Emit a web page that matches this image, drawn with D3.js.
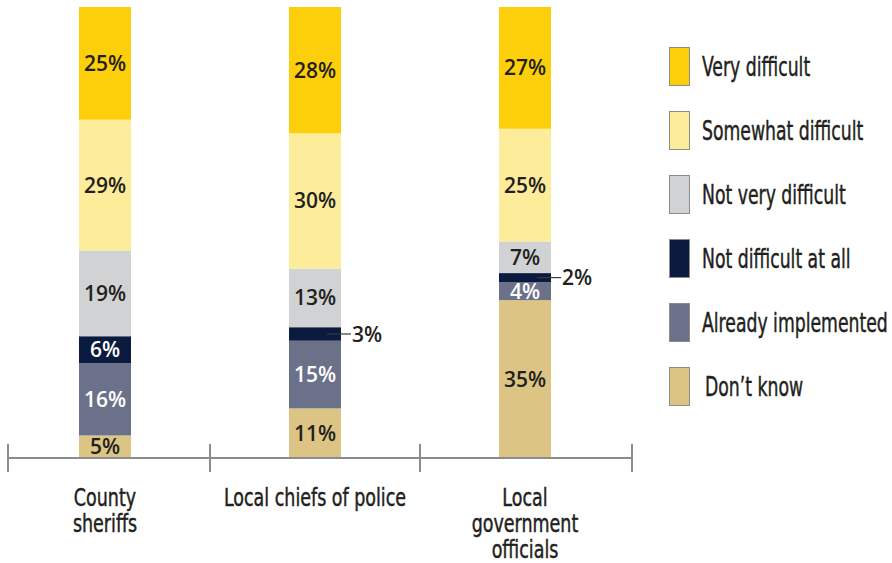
<!DOCTYPE html>
<html>
<head>
<meta charset="utf-8">
<script src="https://cdn.jsdelivr.net/npm/d3@7"></script>
<style>
  html, body { margin: 0; padding: 0; background: #fff; }
  svg { display: block; }
  .cond { font-family: "Liberation Sans Narrow", "DejaVu Sans Condensed", "Roboto", sans-serif; font-stretch: condensed; fill: #231f20; stroke: #231f20; stroke-width: 0.45px; }
  .pct { font-family: "Open Sans", "Lato", sans-serif; font-weight: 600; font-size: 21px; }
</style>
</head>
<body>
<svg id="chart" width="892" height="563"></svg>
<script>
// Survey groups (x-axis) and the label lines drawn under each
const categories = ["County sheriffs", "Local chiefs of police", "Local government officials"];
const categoryLabelLines = [["County", "sheriffs"], ["Local chiefs of police"], ["Local", "government", "officials"]];

// Response options, stacked bottom to top
const seriesNames = ["Don\u2019t know", "Already implemented", "Not difficult at all", "Not very difficult", "Somewhat difficult", "Very difficult"];
const seriesColors = ["#dcc584", "#6c718a", "#0b1a3f", "#d1d2d4", "#fdec9a", "#fccf0a"];
const labelColors = ["#231f20", "#ffffff", "#ffffff", "#231f20", "#231f20", "#231f20"];

// Percent of respondents per group, one array per response option
const dontKnow           = [5, 11, 35];
const alreadyImplemented = [16, 15, 4];
const notDifficultAtAll  = [6, 3, 2];
const notVeryDifficult   = [19, 13, 7];
const somewhatDifficult  = [29, 30, 25];
const veryDifficult      = [25, 28, 27];

// Legend order (top to bottom)
const legendOrder = ["Very difficult", "Somewhat difficult", "Not very difficult", "Not difficult at all", "Already implemented", "Don\u2019t know"];

const seriesValues = [dontKnow, alreadyImplemented, notDifficultAtAll, notVeryDifficult, somewhatDifficult, veryDifficult];

const rows = categories.map((c, i) => {
  const row = { category: c };
  seriesNames.forEach((s, j) => { row[s] = seriesValues[j][i]; });
  return row;
});

const W = 892;
const svg = d3.select("#chart");
// horizontal squeeze so the captions read as a condensed face
const captionSqueeze = 0.81;
let legendSqueeze = 0.755;

const axisY = 458;
const x = d3.scaleBand().domain(categories).range([0, 630]);
const y = d3.scaleLinear().domain([0, 100]).range([axisY, 7]);
const barWidth = 52;

const stack = d3.stack().keys(seriesNames);
const stacked = stack(rows);
const color = d3.scaleOrdinal().domain(seriesNames).range(seriesColors);
const labelColor = d3.scaleOrdinal().domain(seriesNames).range(labelColors);

// Bars
const layers = svg.append("g").selectAll("g")
  .data(stacked).join("g")
  .attr("fill", d => color(d.key));

layers.selectAll("rect")
  .data(d => d.map(p => Object.assign(p, { key: d.key })))
  .join("rect")
  .attr("x", d => x.bandwidth() / 2 + x(d.data.category) - barWidth / 2)
  .attr("width", barWidth)
  .attr("y", d => y(d[1]))
  .attr("height", d => y(d[0]) - y(d[1]));

// Segment labels: inside for larger segments, outside with a leader line for small ones
const labels = svg.append("g");
stacked.forEach(layer => {
  layer.forEach(p => {
    const v = p[1] - p[0];
    const cx = x(p.data.category) + x.bandwidth() / 2;
    const cy = (y(p[0]) + y(p[1])) / 2;
    if (v > 3) {
      labels.append("text")
        .attr("class", "pct")
        .attr("x", cx)
        .attr("y", cy)
        .attr("dy", "0.36em")
        .attr("text-anchor", "middle")
        .attr("fill", labelColor(layer.key))
        .text(v + "%");
    } else {
      const x0 = cx + 12, x1 = cx + barWidth / 2 + 10;
      labels.append("line")
        .attr("x1", x0).attr("x2", x1)
        .attr("y1", cy).attr("y2", cy)
        .attr("stroke", "#3a3a3a").attr("stroke-width", 1.2);
      labels.append("text")
        .attr("class", "pct")
        .attr("x", x1 + 1)
        .attr("y", cy)
        .attr("dy", "0.36em")
        .attr("fill", "#231f20")
        .text(v + "%");
    }
  });
});

// Axis line with ticks at group boundaries
const axis = svg.append("g");
const [r0, r1] = x.range();
axis.append("line")
  .attr("x1", r0 + 8).attr("x2", r1 + 2)
  .attr("y1", axisY).attr("y2", axisY)
  .attr("stroke", "#8c8c8c").attr("stroke-width", 2);
const edges = categories.map(c => x(c)).concat([r1]);
edges[0] = r0 + 8; edges[edges.length - 1] = r1 + 2;
axis.selectAll("line.tick")
  .data(edges).join("line")
  .attr("class", "tick")
  .attr("x1", d => d).attr("x2", d => d)
  .attr("y1", axisY - 14).attr("y2", axisY + 14)
  .attr("stroke", "#8c8c8c").attr("stroke-width", 2);

// Category captions
categories.forEach((c, i) => {
  const cx = x(c) + x.bandwidth() / 2;
  const t = svg.append("text")
    .attr("class", "cond")
    .attr("text-anchor", "middle")
    .attr("font-size", 24)
    .attr("transform", `translate(${cx},0) scale(${captionSqueeze},1)`);
  categoryLabelLines[i].forEach((line, k) => {
    t.append("tspan").attr("x", 0).attr("y", 506 + k * 26).text(line);
  });
});

// Legend
const legendX = 669, legendTextX = 33;
const legend = svg.append("g").attr("transform", `translate(${legendX},47)`);
const items = legend.selectAll("g").data(legendOrder).join("g")
  .attr("transform", (d, i) => `translate(0,${i * 64})`);
items.append("rect")
  .attr("x", 0.5).attr("y", 0.5)
  .attr("width", 20).attr("height", 38)
  .attr("fill", d => color(d))
  .attr("stroke", "#8c8c8c").attr("stroke-width", 1);
const legendText = items.append("text")
  .attr("class", "cond")
  .attr("font-size", 27)
  .text(d => d);
// keep the longest entry inside the page
const widest = d3.max(legendText.nodes(), n => n.getComputedTextLength());
legendSqueeze = Math.min(legendSqueeze, (W - legendX - legendTextX - 4) / widest);
legendText.attr("transform", d => `translate(${d === "Don\u2019t know" ? 36 : legendTextX},29) scale(${legendSqueeze},1)`);
</script>
</body>
</html>
